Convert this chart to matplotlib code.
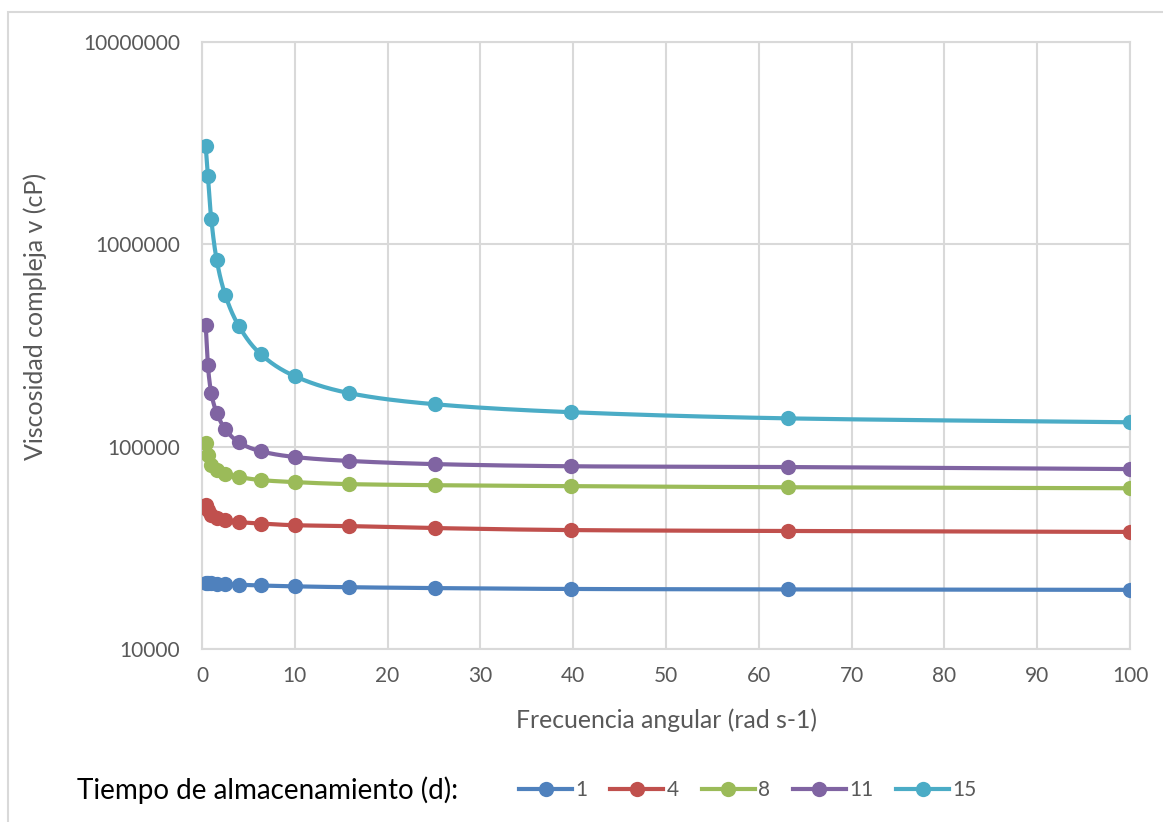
import numpy as np
import matplotlib
matplotlib.use("Agg")
import matplotlib.pyplot as plt
from matplotlib.patches import Rectangle
from matplotlib.lines import Line2D

# Angular frequency sweep (rad/s)
frecuencia = [0.398, 0.631, 1.0, 1.585, 2.512, 3.981, 6.31, 10.0, 15.85, 25.12, 39.81, 63.1, 100.0]

# Complex viscosity (cP) per storage time (days)
dia_1 = [21200, 21150, 21100, 21000, 20900, 20800, 20600, 20400, 20200, 20000, 19800, 19700, 19600]
dia_4 = [51400, 48600, 45900, 44400, 43400, 42400, 41700, 40900, 40500, 39600, 38700, 38300, 37900]
dia_8 = [104000, 91000, 81000, 76600, 73200, 70800, 68400, 66800, 65300, 64500, 63800, 63000, 62300]
dia_11 = [399000, 253000, 184000, 147000, 122000, 105000, 95000, 88900, 85000, 82000, 80000, 79300, 77500]
dia_15 = [3060000, 2180000, 1330000, 836000, 561000, 394000, 287000, 223000, 184000, 162000, 148000, 138000, 132000]

series_labels = ["1", "4", "8", "11", "15"]
series_values = [dia_1, dia_4, dia_8, dia_11, dia_15]
series_colors = ["#4F81BD", "#C0504D", "#9BBB59", "#8064A2", "#4BACC6"]

x_ticks = list(range(0, 101, 10))
y_ticks = [10000, 100000, 1000000, 10000000]


def smooth(xs, ys, n=30):
    """Catmull-Rom spline through the points, in (x, log10 y) space."""
    px = np.asarray(xs, float)
    py = np.log10(np.asarray(ys, float))
    P = np.column_stack([px, py])
    P = np.vstack([P[0], P, P[-1]])
    out = []
    t = np.linspace(0, 1, n, endpoint=False)[:, None]
    for i in range(1, len(P) - 2):
        p0, p1, p2, p3 = P[i - 1], P[i], P[i + 1], P[i + 2]
        seg = 0.5 * ((2 * p1) + (-p0 + p2) * t
                     + (2 * p0 - 5 * p1 + 4 * p2 - p3) * t ** 2
                     + (-p0 + 3 * p1 - 3 * p2 + p3) * t ** 3)
        out.append(seg)
    out.append(P[-2][None, :])
    out = np.vstack(out)
    return out[:, 0], 10 ** out[:, 1]


plt.rcParams['font.family'] = ['Lato', 'DejaVu Sans']
text_gray = "#595959"
grid_gray = "#D9D9D9"

fig = plt.figure(figsize=(11.63, 8.22), dpi=100)
fig.patches.append(Rectangle((8 / 1163, -0.1), 1.2, 1 - 12 / 822 + 0.1,
                             transform=fig.transFigure, fill=False,
                             edgecolor=grid_gray, linewidth=1.5, zorder=0))

ax = fig.add_axes([202 / 1163, 1 - 649 / 822, (1130 - 202) / 1163, (649 - 42) / 822])
ax.set_yscale("log")
ax.set_xlim(0, 100)
ax.set_ylim(10000, 10000000)

for vals, col in zip(series_values, series_colors):
    sx, sy = smooth(frecuencia, vals)
    ax.plot(sx, sy, color=col, linewidth=3.0, solid_capstyle="round", zorder=3)
    ax.plot(frecuencia, vals, linestyle="none", marker="o", markersize=11,
            color=col, markeredgewidth=0, zorder=4)

ax.set_xticks(x_ticks)
ax.set_xticklabels([str(v) for v in x_ticks])
ax.set_yticks(y_ticks)
ax.set_yticklabels([str(v) for v in y_ticks])
ax.yaxis.set_minor_locator(matplotlib.ticker.NullLocator())

ax.grid(True, which="major", color=grid_gray, linewidth=1.5)
ax.set_axisbelow(True)
for side in ["top", "right", "left", "bottom"]:
    ax.spines[side].set_color(grid_gray)
    ax.spines[side].set_linewidth(1.5)
ax.tick_params(axis="both", length=0, colors=text_gray, labelsize=15)
ax.tick_params(axis="x", pad=12)
ax.tick_params(axis="y", pad=16)

ax.set_xlabel("Frecuencia angular (rad s-1)", fontsize=17.8, color=text_gray)
ax.set_ylabel("Viscosidad compleja v (cP)", fontsize=18, color=text_gray)
ax.xaxis.set_label_coords(0.5, -(720 - 649) / 607)
ax.yaxis.set_label_coords(-(202 - 35) / 928, (649 - 316) / 607)
ax.xaxis.label.set_va("center")
ax.yaxis.label.set_va("center")

# Legend row at the bottom
fig.text(77 / 1163, 1 - 790 / 822, "Tiempo de almacenamiento (d):", fontsize=20,
         color="black", va="center", ha="left")
handles = [Line2D([0], [0], color=c, linewidth=3.0, marker="o", markersize=11,
                  markeredgewidth=0) for c in series_colors]
leg = fig.legend(handles, series_labels, loc="center left",
                 bbox_to_anchor=(519 / 1163, 1 - 790 / 822), ncol=5, frameon=False,
                 fontsize=15, handlelength=2.55, handletextpad=0.15, columnspacing=1.1,
                 borderaxespad=0, borderpad=0)
for t in leg.get_texts():
    t.set_color(text_gray)

fig.savefig("out.png", dpi=100)
